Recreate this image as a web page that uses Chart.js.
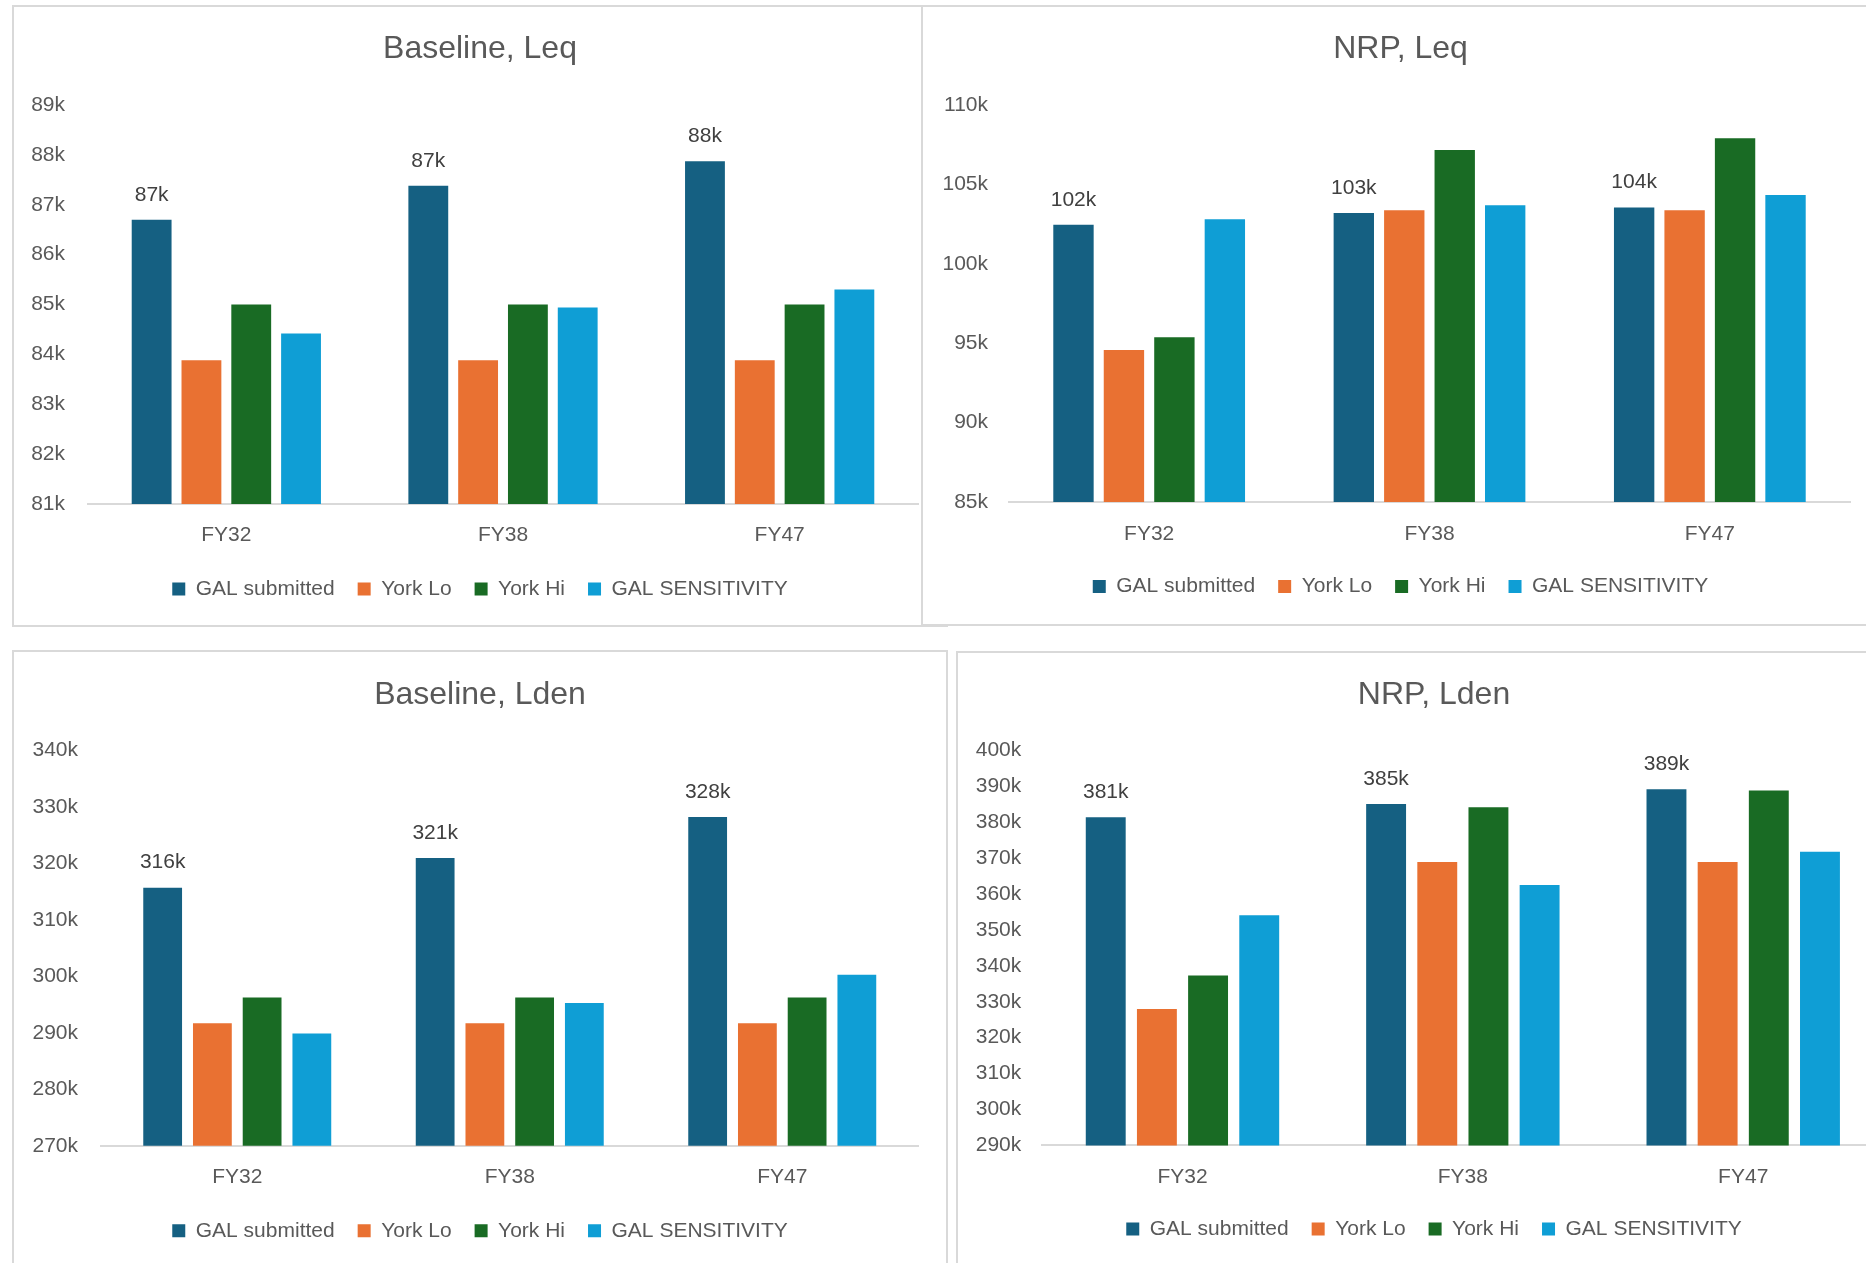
<!DOCTYPE html>
<html>
<head>
<meta charset="utf-8">
<title>Population exposure - Leq / Lden</title>
<script src="https://cdn.jsdelivr.net/npm/chart.js@4.4.1/dist/chart.umd.min.js"></script>
<style>
    html, body { margin: 0; padding: 0; background: #fff; width: 1866px; height: 1263px; overflow: hidden; }
    .panel { position: absolute; border: 2px solid #d9d9d9; background: #fff; overflow: hidden; }
    .panel canvas { display: block; }
</style>
</head>
<body>

<div class="panel" style="left:12px;top:5px;width:932px;height:618px;">
    <canvas id="chartBaselineLeq" width="932" height="618"></canvas>
</div>
<div class="panel" style="left:921px;top:5px;width:955px;height:617px;">
    <canvas id="chartNrpLeq" width="955" height="617"></canvas>
</div>
<div class="panel" style="left:12px;top:650px;width:932px;height:618px;">
    <canvas id="chartBaselineLden" width="932" height="618"></canvas>
</div>
<div class="panel" style="left:956px;top:651px;width:952px;height:618px;">
    <canvas id="chartNrpLden" width="952" height="618"></canvas>
</div>

<script>
// ---- Data ----

const categories = ['FY32', 'FY38', 'FY47'];
const seriesNames = ['GAL submitted', 'York Lo', 'York Hi', 'GAL SENSITIVITY'];
const seriesColors = ['#156082', '#E97132', '#196B24', '#0F9ED5'];

// Baseline, Leq
const baselineLeqGal = [86700, 87380, 87870];
const baselineLeqYorkLo = [83880, 83880, 83880];
const baselineLeqYorkHi = [85000, 85000, 85000];
const baselineLeqSens = [84420, 84940, 85300];
const baselineLeqAxis = [81000, 89000, 1000]; // min, max, step

// NRP, Leq
const nrpLeqGal = [102460, 103200, 103550];
const nrpLeqYorkLo = [94570, 103380, 103380];
const nrpLeqYorkHi = [95380, 107160, 107900];
const nrpLeqSens = [102800, 103680, 104340];
const nrpLeqAxis = [85000, 110000, 5000];

// Baseline, Lden
const baselineLdenGal = [315700, 320950, 328200];
const baselineLdenYorkLo = [291700, 291700, 291700];
const baselineLdenYorkHi = [296250, 296250, 296250];
const baselineLdenSens = [289900, 295300, 300300];
const baselineLdenAxis = [270000, 340000, 10000];

// NRP, Lden
const nrpLdenGal = [381400, 385100, 389200];
const nrpLdenYorkLo = [328000, 368900, 368900];
const nrpLdenYorkHi = [337300, 384200, 388800];
const nrpLdenSens = [354100, 362500, 371800];
const nrpLdenAxis = [290000, 400000, 10000];

// ---- Look ----

const TEXT = '#595959';
const LABEL_TEXT = '#404040';
const AXIS_LINE = '#d9d9d9';

Chart.defaults.font.family = '"Liberation Sans", Arial, sans-serif';
Chart.defaults.color = TEXT;

// value labels above the first series only ("87k")
const galLabels = {
    id: 'galLabels',
    afterDatasetsDraw(chart) {
        const meta = chart.getDatasetMeta(0);
        const values = chart.data.datasets[0].data;
        const ctx = chart.ctx;
        ctx.save();
        ctx.font = '21px "Liberation Sans", Arial, sans-serif';
        ctx.fillStyle = LABEL_TEXT;
        ctx.textAlign = 'center';
        ctx.textBaseline = 'middle';
        meta.data.forEach((bar, i) => {
            ctx.fillText(Math.round(values[i] / 1000) + 'k', bar.x, bar.y - 25);
        });
        ctx.restore();
    }
};

// ---- Chart builder ----

function makeChart(canvasId, title, series, axis, lay) {
    const ctx = document.getElementById(canvasId);
    return new Chart(ctx, {
        type: 'bar',
        data: {
            labels: categories,
            datasets: series.map((data, i) => ({
                label: seriesNames[i],
                data: data,
                backgroundColor: seriesColors[i],
                borderWidth: 0,
                categoryPercentage: lay.catPct,
                barPercentage: lay.barPct
            }))
        },
        options: {
            responsive: false,
            animation: false,
            layout: { padding: { left: 0, right: 0, top: 0, bottom: lay.bottom } },
            plugins: {
                tooltip: { enabled: false },
                title: {
                    display: true,
                    text: title,
                    color: TEXT,
                    font: { size: 32, weight: 'normal' },
                    padding: { top: lay.titleTop, bottom: lay.titleBottom }
                },
                legend: {
                    position: 'bottom',
                    labels: {
                        boxWidth: 13,
                        boxHeight: 13,
                        padding: 23,
                        color: TEXT,
                        font: { size: 21 }
                    }
                }
            },
            scales: {
                x: {
                    grid: { display: false, drawTicks: false },
                    border: { display: true, color: AXIS_LINE, width: 2 },
                    ticks: { color: TEXT, font: { size: 21 }, padding: lay.xPad },
                    afterFit: s => { s.height = lay.xHeight; }
                },
                y: {
                    min: axis[0],
                    max: axis[1],
                    grid: { display: false, drawTicks: false },
                    border: { display: false },
                    ticks: {
                        stepSize: axis[2],
                        color: TEXT,
                        font: { size: 21 },
                        padding: lay.yPad,
                        callback: v => (v / 1000) + 'k'
                    },
                    afterFit: s => { s.width = lay.yWidth; }
                },
                // empty right-hand gutter so the plot stops short of the frame
                gutter: {
                    position: 'right',
                    display: true,
                    grid: { display: false, drawTicks: false },
                    border: { display: false },
                    ticks: { display: false },
                    afterFit: s => { s.width = lay.right; }
                }
            }
        },
        plugins: [galLabels]
    });
}

// ---- Render ----

makeChart('chartBaselineLeq', 'Baseline, Leq',
    [baselineLeqGal, baselineLeqYorkLo, baselineLeqYorkHi, baselineLeqSens], baselineLeqAxis,
    { right: 28, yWidth: 74, yPad: 23, titleTop: 23.4, titleBottom: 36.2, xPad: 18.4, xHeight: 51.5, bottom: 15.5, catPct: 0.72, barPct: 0.8 });

makeChart('chartNrpLeq', 'NRP, Leq',
    [nrpLeqGal, nrpLeqYorkLo, nrpLeqYorkHi, nrpLeqSens], nrpLeqAxis,
    { right: 28, yWidth: 86, yPad: 21, titleTop: 23.4, titleBottom: 36.2, xPad: 19.4, xHeight: 51, bottom: 17, catPct: 0.72, barPct: 0.8 });

makeChart('chartBaselineLden', 'Baseline, Lden',
    [baselineLdenGal, baselineLdenYorkLo, baselineLdenYorkHi, baselineLdenSens], baselineLdenAxis,
    { right: 27.5, yWidth: 87, yPad: 23, titleTop: 24.4, titleBottom: 35.6, xPad: 18.6, xHeight: 51.5, bottom: 18.7, catPct: 0.73, barPct: 0.78 });

makeChart('chartNrpLden', 'NRP, Lden',
    [nrpLdenGal, nrpLdenYorkLo, nrpLdenYorkHi, nrpLdenSens], nrpLdenAxis,
    { right: 26.6, yWidth: 84.3, yPad: 21, titleTop: 23.4, titleBottom: 35.6, xPad: 19, xHeight: 50.1, bottom: 21.5, catPct: 0.73, barPct: 0.78 });
</script>
</body>
</html>
